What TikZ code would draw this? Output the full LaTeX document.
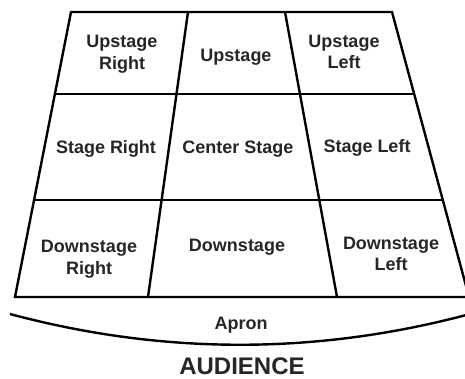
\documentclass[tikz,border=0pt]{standalone}
\usepackage{fontspec}
\setmainfont{Liberation Sans}
\usetikzlibrary{calc}

\begin{document}
\begin{tikzpicture}[x=1pt, y=-1pt,
    wall/.style={draw, line width=2.4pt, line join=miter},
    area/.style={align=center, font=\fontsize{18}{21.5}\selectfont\bfseries, text=black!85, inner sep=0pt},
    house/.style={font=\fontsize{24}{28}\selectfont\bfseries, text=black!85, inner sep=0pt}]
  \useasboundingbox (0,0) rectangle (465,378);
  % edges of the stage floor, top and bottom ends
  \coordinate (t0) at (71,12);  \coordinate (b0) at (15,297);
  \coordinate (t1) at (188,12); \coordinate (b1) at (148,297);
  \coordinate (t2) at (285,12); \coordinate (b2) at (337,297);
  \coordinate (t3) at (392,12); \coordinate (b3) at (469,297);
  \foreach \i in {0,...,3} {
    \coordinate (m\i) at ($(t\i)!0.2877!(b\i)$);
    \coordinate (n\i) at ($(t\i)!0.6596!(b\i)$);
  }
  \draw[wall] (t0) -- (t3) -- (b3) -- (b0) -- cycle;
  \draw[wall] (t1) -- (b1);
  \draw[wall] (t2) -- (b2);
  \draw[wall] (m0) -- (m3);
  \draw[wall] (n0) -- (n3);
  % apron rim
  \coordinate (apronL) at (10,314);
  \coordinate (apronR) at (470,314);
  \draw[wall] (apronL) .. controls (163,355) and (317,355) .. (apronR);

  \node[area] (usr) at (122,54) {Upstage\\Right};
  \node[area] (us)  at (236,57) {Upstage};
  \node[area] (usl) at (344,52) {Upstage\\Left};
  \node[area] (sr)  at (106,149) {Stage Right};
  \node[area] (cs)  at (238,149) {Center Stage};
  \node[area] (sl)  at (367,148) {Stage Left};
  \node[area] (dsr) at (89,259) {Downstage\\Right};
  \node[area] (ds)  at (237,247) {Downstage};
  \node[area] (dsl) at (391,254) {Downstage\\Left};
  \node[area] (apron) at (241,325) {Apron};
  \node[house] (aud) at (242,366) {AUDIENCE};
\end{tikzpicture}
\end{document}
